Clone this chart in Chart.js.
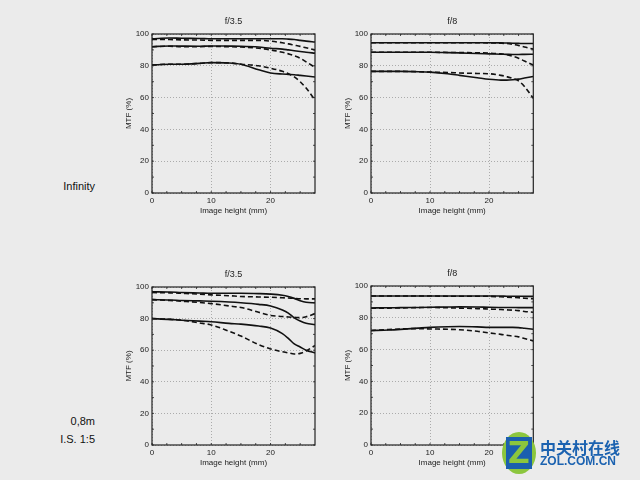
<!DOCTYPE html>
<html>
<head>
<meta charset="utf-8">
<script src="https://cdn.jsdelivr.net/npm/chart.js@4"></script>
<style>
  html,body{margin:0;padding:0;background:#ebebeb;width:640px;height:480px;overflow:hidden;font-family:"Liberation Sans",Arial,sans-serif;}
  canvas{position:absolute;}
  .lbl{position:absolute;font-size:11px;color:#111;text-align:right;width:60px;}
  #wm{position:absolute;left:502px;top:432px;width:640px;}
  #logo{position:absolute;left:0;top:0;width:34px;height:42px;border-radius:50%;background:#8cc63e;}
  #logoz{position:absolute;left:4px;top:5px;width:26px;height:32px;background:#1b5fae;font:bold 30px "DejaVu Sans",sans-serif;color:#8cc63e;text-align:center;line-height:32px;}
  #wmt1{position:absolute;left:38px;top:3px;font:bold 16px "Noto Sans CJK SC",sans-serif;color:#1b62b0;white-space:nowrap;}
  #wmt2{position:absolute;left:38px;top:22px;font:bold 12px "Liberation Sans",Arial,sans-serif;color:#1b62b0;white-space:nowrap;}
</style>
</head>
<body>
<canvas id="c1"></canvas>
<canvas id="c2"></canvas>
<canvas id="c3"></canvas>
<canvas id="c4"></canvas>
<div class="lbl" style="left:35px;top:180px;">Infinity</div>
<div class="lbl" style="left:35px;top:415px;">0,8m</div>
<div class="lbl" style="left:35px;top:433px;">I.S. 1:5</div>
<div id="wm"><div id="logo"><div id="logoz">Z</div></div><div id="wmt1">中关村在线</div><div id="wmt2">ZOL.COM.CN</div></div>
<script>
// Image height positions (mm)
const heights = [0, 3, 5, 8, 10, 13, 15, 18, 20, 22, 23, 24, 25, 26, 27.5];
const xTicks = [0, 10, 20];
const yTicks = [0, 20, 40, 60, 80, 100];
const titles = ["f/3.5", "f/8", "f/3.5", "f/8"];

// Panel 1: Infinity, f/3.5
const inf35_s1 = [97, 97.5, 97.3, 97.2, 97, 97, 97, 97, 97, 97, 96.8, 96.5, 96, 95.5, 95];
const inf35_d1 = [96.5, 96.5, 96.3, 96.2, 96, 96, 96, 96, 95.5, 94.5, 93.8, 93, 92.2, 91.3, 90];
const inf35_s2 = [92, 92.5, 92.4, 92.3, 92.5, 92.4, 92.3, 91.8, 91, 90.5, 90, 89.5, 89, 88.5, 88];
const inf35_d2 = [92, 92.3, 92, 92, 92.2, 92, 91.8, 91, 90, 88.5, 87.5, 86.3, 84.8, 82.5, 79];
const inf35_s3 = [80.5, 81, 81, 81.5, 82, 81.8, 81, 77.5, 75.5, 74.8, 74.6, 74.4, 74, 73.6, 73];
const inf35_d3 = [80.5, 81, 81, 81.5, 82, 81.8, 81, 80, 78.5, 76.5, 75, 73, 70, 66, 58.5];
// Panel 2: Infinity, f/8
const inf8_s1 = [94.5, 94.5, 94.5, 94.5, 94.5, 94.5, 94.5, 94.5, 94.5, 94.4, 94.3, 94.2, 94.1, 94, 94];
const inf8_d1 = [94.5, 94.5, 94.5, 94.5, 94.5, 94.5, 94.5, 94.5, 94.4, 94.2, 94, 93.5, 92.8, 91.8, 90.5];
const inf8_s2 = [88.5, 88.5, 88.5, 88.5, 88.5, 88.3, 88.1, 87.7, 87.5, 87.3, 87.2, 87.1, 87.1, 87.2, 87.3];
const inf8_d2 = [88.5, 88.5, 88.5, 88.5, 88.5, 88.4, 88.3, 88.2, 88, 87.5, 87, 86, 84.8, 83, 80.5];
const inf8_s3 = [76.5, 76.5, 76.5, 76.3, 76, 75, 74, 72.5, 71.5, 71, 71, 71.2, 71.6, 72.3, 73.3];
const inf8_d3 = [76.5, 76.5, 76.5, 76.3, 76, 75.8, 75.5, 75.2, 75, 74, 73.2, 72, 70.5, 67, 59.5];
// Panel 3: 0,8m, f/3.5
const m08_35_s1 = [97, 96.8, 96.5, 96.2, 96, 96, 96, 95.8, 95.5, 94.8, 94, 92.8, 91.3, 90.3, 90];
const m08_35_d1 = [96.5, 96.3, 96, 95.5, 95, 94.5, 94, 93.7, 93.5, 93.2, 93, 92.8, 92.6, 92.5, 92.5];
const m08_35_s2 = [92, 91.8, 91.5, 91.2, 91, 90.5, 90, 89, 88, 85.5, 83.5, 80.5, 78.5, 77, 76.2];
const m08_35_d2 = [92, 91.5, 91, 90.2, 89.5, 88, 87, 84, 82, 81.3, 81, 80.8, 80.6, 81.2, 83.2];
const m08_35_s3 = [80, 79.5, 79, 78.4, 78, 77, 76.5, 75.3, 74, 70.5, 67.5, 64, 62, 60, 58.3];
const m08_35_d3 = [80, 79.5, 79, 77.3, 76, 72, 69, 63.5, 60.8, 59, 58.3, 57.6, 58, 59.5, 63];
// Panel 4: 0,8m, f/8
const m08_8_s1 = [93.7, 93.7, 93.7, 93.7, 93.7, 93.7, 93.7, 93.7, 93.7, 93.7, 93.6, 93.6, 93.6, 93.5, 93.5];
const m08_8_d1 = [93.7, 93.7, 93.7, 93.7, 93.7, 93.6, 93.6, 93.6, 93.5, 93.2, 93, 92.8, 92.6, 92.3, 92];
const m08_8_s2 = [86.2, 86.3, 86.4, 86.5, 86.6, 86.8, 86.9, 86.8, 86.6, 86.5, 86.5, 86.5, 86.4, 86.4, 86.4];
const m08_8_d2 = [86, 86.1, 86.2, 86.4, 86.5, 86.3, 86.1, 85.8, 85.5, 85.2, 85, 84.8, 84.5, 84, 83.5];
const m08_8_s3 = [72, 72.3, 72.7, 73.5, 74, 74.4, 74.5, 74.3, 74, 74, 74, 74, 73.8, 73.4, 72.8];
const m08_8_d3 = [72, 72.6, 73, 73.2, 73, 72.8, 72.5, 71.5, 70.5, 69.6, 69, 68.5, 68, 67, 65.5];

const panels = [
  {id:"c1", series:[inf35_s1, inf35_d1, inf35_s2, inf35_d2, inf35_s3, inf35_d3]},
  {id:"c2", series:[inf8_s1, inf8_d1, inf8_s2, inf8_d2, inf8_s3, inf8_d3]},
  {id:"c3", series:[m08_35_s1, m08_35_d1, m08_35_s2, m08_35_d2, m08_35_s3, m08_35_d3]},
  {id:"c4", series:[m08_8_s1, m08_8_d1, m08_8_s2, m08_8_d2, m08_8_s3, m08_8_d3]}
];
// canvas boxes: left, top, width, height, top padding, right padding
const YW = 28;
const boxes = [
  {l:124,   t:0,   w:201, h:225, pt:34, pr:10},
  {l:342.7, t:0,   w:200, h:225, pt:34, pr:9.7},
  {l:124,   t:252, w:201, h:225, pt:35, pr:10},
  {l:342.7, t:252, w:200, h:225, pt:34, pr:9.7}
];
const FONT = {family:'"Liberation Sans", Arial, sans-serif', size:8};

const framePlugin = {
  id:'frame',
  afterDatasetsDraw(chart){
    const {ctx, chartArea:a} = chart;
    ctx.save();
    ctx.strokeStyle = '#222';
    ctx.lineWidth = 1.2;
    ctx.strokeRect(a.left, a.top, a.right - a.left, a.bottom - a.top);
    ctx.lineWidth = 0.8;
    const xs = chart.scales.x, ys = chart.scales.y;
    for (let v = 0; v <= 27; v += 2.5) {
      const px = xs.getPixelForValue(v);
      ctx.beginPath(); ctx.moveTo(px, a.top); ctx.lineTo(px, a.top + 2); ctx.stroke();
      ctx.beginPath(); ctx.moveTo(px, a.bottom); ctx.lineTo(px, a.bottom - 2); ctx.stroke();
    }
    for (let v = 0; v <= 100; v += 10) {
      const py = ys.getPixelForValue(v);
      ctx.beginPath(); ctx.moveTo(a.left, py); ctx.lineTo(a.left + 2, py); ctx.stroke();
      ctx.beginPath(); ctx.moveTo(a.right, py); ctx.lineTo(a.right - 2, py); ctx.stroke();
    }
    ctx.fillStyle = '#222';
    ctx.font = '9px "Liberation Sans", Arial, sans-serif';
    ctx.textAlign = 'center';
    ctx.textBaseline = 'middle';
    ctx.fillText(chart.options.plugins.panelTitle.text, (a.left + a.right) / 2, a.top - 12);
    ctx.restore();
  }
};

panels.forEach((p, i) => {
  const b = boxes[i];
  const cv = document.getElementById(p.id);
  cv.style.left = b.l + 'px'; cv.style.top = b.t + 'px';
  cv.width = Math.round(b.w); cv.height = b.h;
  cv.style.width = Math.round(b.w) + 'px'; cv.style.height = b.h + 'px';
  const datasets = p.series.map((s, k) => ({
    data: heights.map((h, j) => ({x: h, y: s[j]})),
    borderColor: '#111',
    borderWidth: 1.6,
    borderDash: (k % 2 === 1) ? [5, 3] : [],
    pointRadius: 0,
    cubicInterpolationMode: 'monotone',
    fill: false
  }));
  new Chart(cv, {
    type: 'line',
    data: {datasets},
    plugins: [framePlugin],
    options: {
      responsive: false,
      animation: false,
      layout: {padding: {top: b.pt, right: b.pr, left: 0, bottom: 9}},
      plugins: {legend: {display: false}, tooltip: {enabled: false}, panelTitle: {text: titles[i]}},
      scales: {
        x: {
          type: 'linear', min: 0, max: 27.5,
          afterBuildTicks(s){ s.ticks = xTicks.map(v => ({value: v})); },
          afterFit(s){ s.height = 23; },
          grid: {color: '#9a9a9a', lineWidth: 0.8, drawTicks: false},
          border: {display: false, dash: [1, 2]},
          ticks: {color: '#222', font: FONT, padding: 3, maxRotation: 0},
          title: {display: true, text: 'Image height (mm)', color: '#222', font: FONT, padding: {top: 1, bottom: 0}}
        },
        y: {
          min: 0, max: 100,
          afterBuildTicks(s){ s.ticks = yTicks.map(v => ({value: v})); },
          afterFit(s){ s.width = YW; },
          grid: {color: '#9a9a9a', lineWidth: 0.8, drawTicks: false},
          border: {display: false, dash: [1, 2]},
          ticks: {color: '#222', font: FONT, padding: 3},
          title: {display: true, text: 'MTF (%)', color: '#222', font: FONT, padding: {top: 0, bottom: 2}}
        }
      }
    }
  });
});
</script>
</body>
</html>
